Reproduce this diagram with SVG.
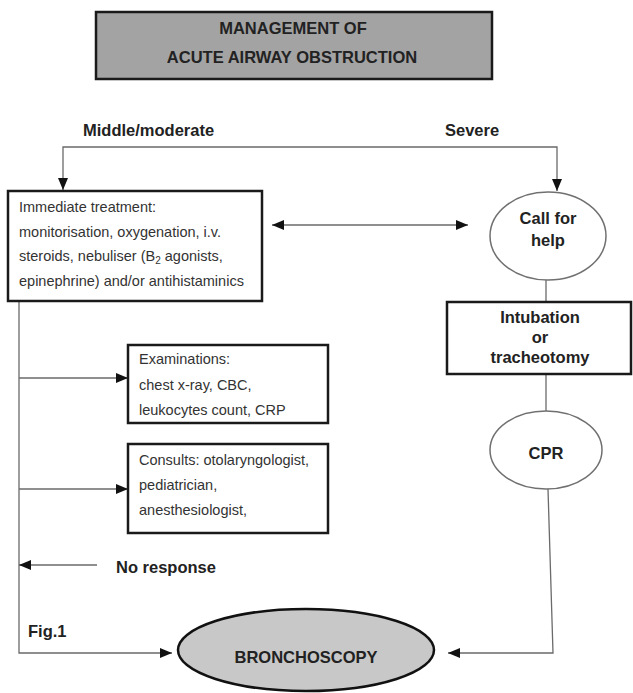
<svg xmlns="http://www.w3.org/2000/svg" width="633" height="693" viewBox="0 0 633 693">
<style>
.box{fill:#fff;stroke:#1a1a1a;stroke-width:2.5}
.oval{fill:#fff;stroke:#707070;stroke-width:1.5}
.conn{fill:none;stroke:#6a6a6a;stroke-width:1.3}
.b{font-family:"Liberation Sans",Arial,sans-serif;font-weight:bold;font-size:16.5px;fill:#222}
.r{font-family:"Liberation Sans",Arial,sans-serif;font-size:14.5px;fill:#333}
</style>
<defs>
<marker id="ah" markerUnits="userSpaceOnUse" markerWidth="13" markerHeight="11" refX="12" refY="5" orient="auto-start-reverse">
<path d="M0,0 L12,5 L0,10 z" fill="#111"/>
</marker>
</defs>
<rect width="633" height="693" fill="#fff"/>
<g id="title">
<rect x="96" y="12" width="396" height="67" fill="#a3a3a3" stroke="#1a1a1a" stroke-width="2.5"/>
<text class="b" x="293" y="34" text-anchor="middle" font-size="16">MANAGEMENT OF</text>
<text class="b" x="292" y="63" text-anchor="middle" font-size="16.5">ACUTE AIRWAY OBSTRUCTION</text>
</g>
<g id="labels">
<text class="b" x="83" y="136">Middle/moderate</text>
<text class="b" x="445" y="136">Severe</text>
<text class="b" x="116" y="573" font-size="14.5">No response</text>
<text class="b" x="28" y="637">Fig.1</text>
</g>
<g id="connectors">
<path class="conn" d="M310,147 H63 V190" marker-end="url(#ah)"/>
<path class="conn" d="M310,147 H557 V191" marker-end="url(#ah)"/>
<line class="conn" x1="272" y1="225" x2="468" y2="225" marker-start="url(#ah)" marker-end="url(#ah)"/>
<line class="conn" x1="546" y1="280" x2="546" y2="302"/>
<line class="conn" x1="546" y1="374" x2="546" y2="411"/>
<path class="conn" d="M548,489 L553,653 H448" marker-end="url(#ah)"/>
<path class="conn" d="M19,301 V653 H172" marker-end="url(#ah)"/>
<line class="conn" x1="19" y1="378" x2="128" y2="378" marker-end="url(#ah)"/>
<line class="conn" x1="19" y1="489" x2="128" y2="489" marker-end="url(#ah)"/>
<line class="conn" x1="97" y1="565" x2="19" y2="565" marker-end="url(#ah)"/>
</g>
<g id="immediate">
<rect class="box" x="8" y="191" width="254" height="110"/>
<text class="r" x="19" y="212">Immediate treatment:</text>
<text class="r" x="19" y="237">monitorisation, oxygenation, i.v.</text>
<text class="r" x="19" y="261">steroids, nebuliser (B<tspan font-size="10" dy="3">2</tspan><tspan dy="-3"> agonists,</tspan></text>
<text class="r" x="19" y="286">epinephrine) and/or antihistaminics</text>
</g>
<g id="callhelp">
<ellipse class="oval" cx="548" cy="236" rx="58" ry="44"/>
<text class="b" x="548" y="224" text-anchor="middle">Call for</text>
<text class="b" x="548" y="246" text-anchor="middle">help</text>
</g>
<g id="intubation">
<rect class="box" x="447" y="302" width="184" height="72"/>
<text class="b" x="540" y="323" text-anchor="middle">Intubation</text>
<text class="b" x="540" y="343" text-anchor="middle">or</text>
<text class="b" x="540" y="363" text-anchor="middle">tracheotomy</text>
</g>
<g id="exams">
<rect class="box" x="128" y="345" width="200" height="78"/>
<text class="r" x="139" y="364">Examinations:</text>
<text class="r" x="139" y="390">chest x-ray, CBC,</text>
<text class="r" x="139" y="415">leukocytes count, CRP</text>
</g>
<g id="consults">
<rect class="box" x="128" y="444" width="200" height="89"/>
<text class="r" x="139" y="465">Consults: otolaryngologist,</text>
<text class="r" x="139" y="490">pediatrician,</text>
<text class="r" x="139" y="515">anesthesiologist,</text>
</g>
<g id="cpr">
<ellipse class="oval" cx="546" cy="450" rx="56" ry="39"/>
<text class="b" x="546" y="459" text-anchor="middle" font-size="18">CPR</text>
</g>
<g id="bronchoscopy">
<ellipse cx="306" cy="650" rx="128" ry="41" fill="#c8c8c8" stroke="#111" stroke-width="2.5"/>
<text class="b" x="306" y="663" text-anchor="middle" font-size="17">BRONCHOSCOPY</text>
</g>
</svg>
